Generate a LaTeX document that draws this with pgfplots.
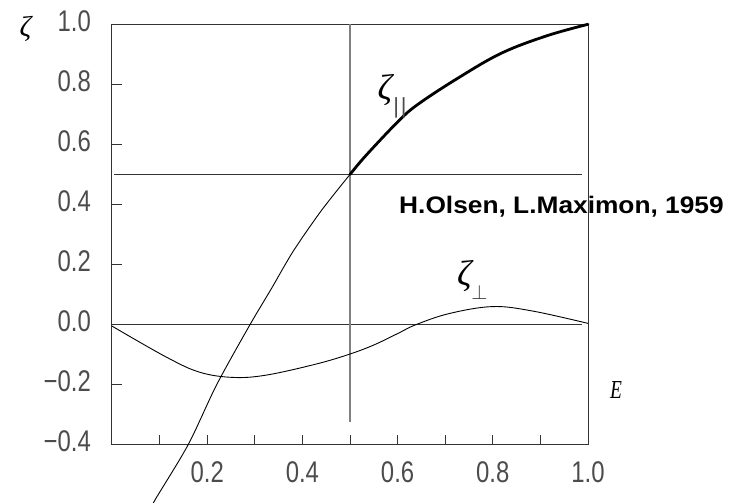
\documentclass[border=0pt]{standalone}
\usepackage{fontspec}
\setmainfont{Liberation Serif}
\newfontfamily\tickfont{Liberation Sans}
\usepackage{graphicx}
\usepackage{pgfplots}
\pgfplotsset{compat=1.18}
\newcommand\tl[1]{\scalebox{0.8}[1]{\fontsize{30}{30}\selectfont\tickfont #1}}
\begin{document}
\begin{tikzpicture}
\path[use as bounding box] (-112bp,-58.3bp) rectangle (619bp,444.7bp);
\begin{axis}[
  at={(0,0)}, anchor=south west,
  scale only axis, width=476bp, height=420.4bp,
  xmin=0, xmax=1, ymin=-0.4, ymax=1.0,
  clip=false,
  axis line style={black!80, line width=1bp},
  tick style={black!80, line width=1bp},
  tick align=inside, tick pos=left,
  major tick length=10bp,
  xtick={0.1,0.2,0.3,0.4,0.5,0.6,0.7,0.8,0.9,1.0},
  xticklabels={,\tl{0.2},,\tl{0.4},,\tl{0.6},,\tl{0.8},,\tl{1.0}},
  ytick={-0.4,-0.2,0,0.2,0.4,0.6,0.8,1.0},
  yticklabels={\tl{−0.4},\tl{−0.2},\tl{0.0},\tl{0.2},\tl{0.4},\tl{0.6},\tl{0.8},\tl{1.0}},
  xticklabel style={anchor=north, inner sep=0pt, yshift=-17bp, text=black!70},
  yticklabel style={anchor=east, inner sep=0pt, xshift=-21bp, yshift=3.5bp, text=black!70},
]
% reference lines
\addplot[black!80, line width=1bp] coordinates {(0.004,0.5) (0.987,0.5)};
\addplot[black!80, line width=1bp] coordinates {(0,0) (0.987,0)};
\addplot[black!50, line width=1.4bp] coordinates {(0.5,1.0) (0.5,-0.326)};
% zeta parallel, thin part
\addplot[black, line width=0.9bp, smooth, tension=0.5] coordinates {
 (0.08,-0.62) (0.09,-0.585) (0.16,-0.40) (0.22,-0.20) (0.29,0.0) (0.335,0.12) (0.381,0.245) (0.44,0.38) (0.5,0.5)};
% zeta parallel, thick part
\addplot[black, line width=2.8bp, line join=round, line cap=round, smooth, tension=0.6] coordinates {
 (0.5,0.5) (0.534,0.564) (0.604,0.681) (0.645,0.736) (0.726,0.82) (0.817,0.903) (0.912,0.961) (1.0,1.0)};
% zeta perp
\addplot[black, line width=0.9bp, smooth, tension=0.6] coordinates {
 (0,-0.005) (0.115,-0.109) (0.185,-0.159) (0.255,-0.176) (0.325,-0.168) (0.43,-0.131) (0.5,-0.098) (0.55,-0.068) (0.6,-0.03) (0.639,0.0) (0.709,0.037) (0.8,0.06) (0.884,0.045) (1.0,0.004)};
% labels
\node[inner sep=0pt] at (axis cs:-0.1817,0.986) {\fontsize{29}{29}\selectfont\itshape ζ};
\node[inner sep=0pt] at (axis cs:1.0588,-0.219) {\scalebox{0.75}[1]{\fontsize{26}{26}\selectfont\itshape E}};
\node[inner sep=0pt] at (axis cs:0.5735,0.781) {\fontsize{36}{36}\selectfont\itshape ζ};
\node[inner sep=0pt, text=black!70] at (axis cs:0.605,0.7227) {\fontsize{22}{22}\selectfont\tickfont |\kern2bp|};
\node[inner sep=0pt] at (axis cs:0.7405,0.1627) {\fontsize{36}{36}\selectfont\itshape ζ};
\node[inner sep=0pt, text=black!80] at (axis cs:0.772,0.106) {\fontsize{20}{20}\selectfont$\perp$};
\node[anchor=base west, inner sep=0pt] at (axis cs:0.603,0.37) {\scalebox{1.1}[1]{\fontsize{24}{24}\selectfont\tickfont\bfseries H.Olsen, L.Maximon, 1959}};
\end{axis}
\end{tikzpicture}
\end{document}
